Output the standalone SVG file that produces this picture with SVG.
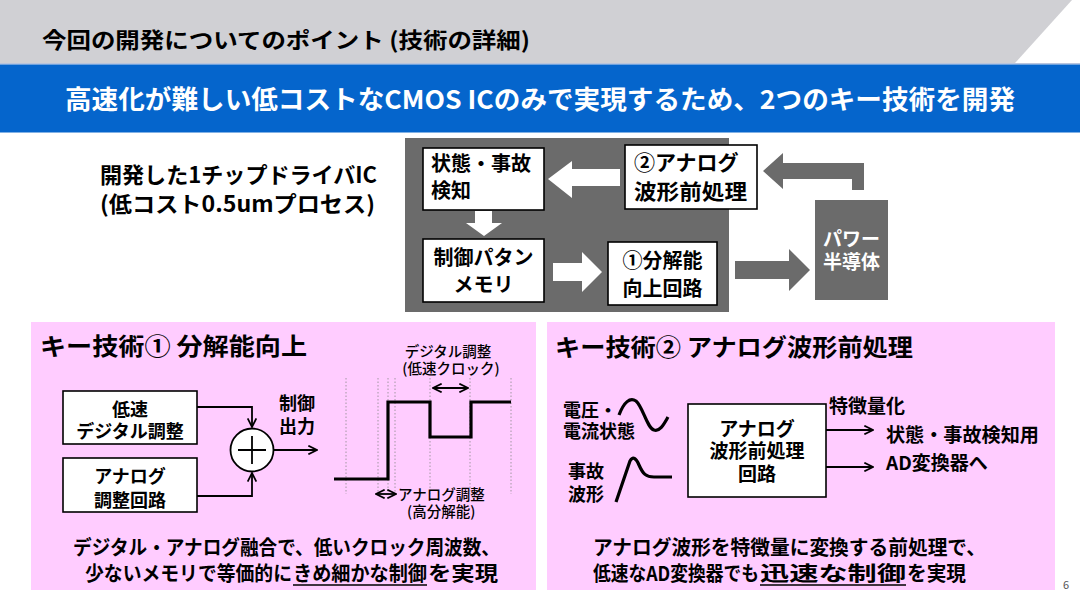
<svg xmlns="http://www.w3.org/2000/svg" width="1080" height="599" viewBox="0 0 1080 599">
<style>
text{font-family:"Noto Sans CJK JP","Noto Sans",sans-serif;font-weight:bold;fill:#000}
.w{fill:#fff}
.box{fill:#fff;stroke:#000;stroke-width:1.6}
.dk{fill:#6b6b6b}
.pink{fill:#ffccff}
.ln{fill:none;stroke:#000;stroke-width:1.8}
.wave{fill:none;stroke:#000;stroke-width:3.2}
.dot{stroke:#8a8a8a;stroke-width:0.8;stroke-dasharray:1.5 2}
.thin{font-weight:500}
.c{text-anchor:middle}
</style>
<defs>
<marker id="ah" viewBox="0 0 10 10" refX="9" refY="5" markerWidth="6" markerHeight="6" orient="auto-start-reverse">
<path d="M1,1 L9,5 L1,9" fill="none" stroke="#000" stroke-width="1.6"/>
</marker>
</defs>
<rect width="1080" height="599" fill="#fff"/>
<g id="header">
<polygon points="0,0 1072,0 1015,63 0,63" fill="#d0d0d4"/>
<rect x="0" y="63" width="1080" height="1.5" fill="#b8c4de"/>
<rect x="0" y="64.5" width="1080" height="68" fill="#0565cc"/>
<text x="42" y="48" font-size="22" textLength="488" lengthAdjust="spacingAndGlyphs">今回の開発についてのポイント (技術の詳細)</text>
<text x="65" y="109" font-size="26" class="w" textLength="950" lengthAdjust="spacingAndGlyphs">高速化が難しい低コストなCMOS ICのみで実現するため、2つのキー技術を開発</text>
</g>
<g id="chip-label">
<text font-size="22"><tspan x="100" y="183" textLength="277" lengthAdjust="spacingAndGlyphs">開発した1チップドライバIC</tspan><tspan x="100" y="212" textLength="275" lengthAdjust="spacingAndGlyphs">(低コスト0.5umプロセス)</tspan></text>
</g>
<g id="chip">
<rect x="405" y="138" width="324" height="174" class="dk"/>
</g>
<g id="connectors">
<path d="M620,169 L572,169 L572,161 L548,179 L572,198 L572,186 L620,186 Z" class="w"/>
<path d="M475,211 L492,211 L492,223 L502,223 L484,236 L466,223 L475,223 Z" class="w"/>
<path d="M553,263 L582,263 L582,252 L602,272 L582,292 L582,281 L553,281 Z" class="w"/>
<path d="M735,261 L789,261 L789,249 L810,270 L789,291 L789,279 L735,279 Z" class="dk"/>
<path d="M864,190 L852,190 L852,179 L783,179 L783,189 L763,171 L783,153 L783,163 L864,163 Z" class="dk"/>
</g>
<g id="node-detect">
<rect x="423" y="148" width="121" height="62" class="box"/>
<text font-size="20"><tspan x="431" y="171">状態・事故</tspan><tspan x="431" y="198">検知</tspan></text>
</g>
<g id="node-memory">
<rect x="423" y="239" width="121" height="63" class="box"/>
<text font-size="20" class="c"><tspan x="483.5" y="265">制御パタン</tspan><tspan x="483.5" y="292">メモリ</tspan></text>
</g>
<g id="node-resolution">
<rect x="608" y="242" width="109" height="63" class="box"/>
<text font-size="20" class="c"><tspan x="662.5" y="268">①分解能</tspan><tspan x="662.5" y="296">向上回路</tspan></text>
</g>
<g id="node-analog">
<rect x="625" y="145" width="132" height="64" class="box"/>
<text font-size="21"><tspan x="634" y="170">②アナログ</tspan><tspan x="634" y="199" textLength="113" lengthAdjust="spacingAndGlyphs">波形前処理</tspan></text>
</g>
<g id="node-power">
<rect x="815" y="200" width="73" height="100" class="dk"/>
<text font-size="19" class="w c"><tspan x="851.5" y="246">パワー</tspan><tspan x="851.5" y="269">半導体</tspan></text>
</g>
<g id="panel1">
<rect x="31" y="322" width="505" height="268" class="pink"/>
<text x="40" y="355" font-size="24" textLength="267" lengthAdjust="spacingAndGlyphs">キー技術① 分解能向上</text>
<g id="node-digital">
<rect x="63" y="391" width="134" height="53" class="box"/>
<text font-size="18" class="c"><tspan x="130" y="416">低速</tspan><tspan x="130" y="438">デジタル調整</tspan></text>
</g>
<g id="node-analogadj">
<rect x="63" y="458" width="134" height="54" class="box"/>
<text font-size="18" class="c"><tspan x="130" y="483">アナログ</tspan><tspan x="130" y="507">調整回路</tspan></text>
</g>
<g id="node-sum">
<circle cx="252" cy="450" r="21.5" fill="#fff" stroke="#000" stroke-width="1.8"/>
<path d="M238,450 H266 M252,436 V464" stroke="#000" stroke-width="1.8"/>
</g>
<g id="p1-connectors">
<path d="M197,407 H252 V427" class="ln" marker-end="url(#ah)"/>
<path d="M197,496 H252 V473" class="ln" marker-end="url(#ah)"/>
<path d="M274,450 H317" class="ln" marker-end="url(#ah)"/>
</g>
<text font-size="18" class="c"><tspan x="297" y="410">制御</tspan><tspan x="297" y="433">出力</tspan></text>
<g id="waveform">
<line x1="346" y1="378" x2="346" y2="494" class="dot"/>
<line x1="378" y1="378" x2="378" y2="494" class="dot"/>
<line x1="388" y1="378" x2="388" y2="494" class="dot"/>
<line x1="395" y1="378" x2="395" y2="494" class="dot"/>
<line x1="430" y1="378" x2="430" y2="494" class="dot"/>
<line x1="470" y1="378" x2="470" y2="494" class="dot"/>
<line x1="511" y1="378" x2="511" y2="494" class="dot"/>
<path d="M334,479 H388 V402 H430 V437 H471 V402 H511" class="wave"/>
<path d="M433,388 H468" class="ln" marker-start="url(#ah)" marker-end="url(#ah)"/>
<path d="M376,494 H396" class="ln" marker-start="url(#ah)" marker-end="url(#ah)"/>
</g>
<text font-size="14.5" class="thin c"><tspan x="448" y="357">デジタル調整</tspan><tspan x="451" y="374">(低速クロック)</tspan></text>
<text font-size="14.5" class="thin"><tspan x="398" y="500">アナログ調整</tspan><tspan x="407" y="517">(高分解能)</tspan></text>
<text font-size="20"><tspan x="73" y="555" textLength="427" lengthAdjust="spacingAndGlyphs">デジタル・アナログ融合で、低いクロック周波数、</tspan><tspan x="85" y="581" textLength="207" lengthAdjust="spacingAndGlyphs">少ないメモリで等価的に</tspan><tspan x="293" y="581" textLength="134" lengthAdjust="spacingAndGlyphs">きめ細かな制御</tspan><tspan x="428" y="581" textLength="70" lengthAdjust="spacingAndGlyphs">を実現</tspan></text>
<line x1="293" y1="585" x2="427" y2="585" stroke="#000" stroke-width="1.3"/>
</g>
<g id="panel2">
<rect x="547" y="322" width="508" height="268" class="pink"/>
<text x="555" y="356" font-size="24" textLength="358" lengthAdjust="spacingAndGlyphs">キー技術② アナログ波形前処理</text>
<text font-size="18"><tspan x="563" y="417">電圧・</tspan><tspan x="563" y="438">電流状態</tspan></text>
<text font-size="18"><tspan x="568" y="478">事故</tspan><tspan x="568" y="501">波形</tspan></text>
<path d="M619,415 C624,402 630,397 636,401 C643,407 647,428 654,430 C660,432 664,424 668,417" class="wave" stroke-width="2.6"/>
<path d="M616,502 L630,461 C633,456 636,458 639,465 C643,474 646,477 654,477 L672,477" class="wave" stroke-width="2.6"/>
<g id="node-preproc">
<rect x="688" y="404" width="138" height="93" class="box"/>
<text font-size="19" class="c"><tspan x="757" y="436">アナログ</tspan><tspan x="757" y="458">波形前処理</tspan><tspan x="757" y="481">回路</tspan></text>
</g>
<g id="p2-connectors">
<path d="M826,430 H873" class="ln" marker-end="url(#ah)"/>
<path d="M826,467 H873" class="ln" marker-end="url(#ah)"/>
</g>
<text x="829" y="413" font-size="19">特徴量化</text>
<text font-size="19"><tspan x="886" y="442" textLength="153" lengthAdjust="spacingAndGlyphs">状態・事故検知用</tspan><tspan x="886" y="470">AD変換器へ</tspan></text>
<text font-size="20"><tspan x="593" y="555" textLength="393" lengthAdjust="spacingAndGlyphs">アナログ波形を特徴量に変換する前処理で、</tspan><tspan x="593" y="581" textLength="166" lengthAdjust="spacingAndGlyphs">低速なAD変換器でも</tspan><tspan x="760" y="581" textLength="146" lengthAdjust="spacingAndGlyphs">迅速な制御</tspan><tspan x="907" y="581" textLength="59" lengthAdjust="spacingAndGlyphs">を実現</tspan></text>
<line x1="760" y1="585" x2="906" y2="585" stroke="#000" stroke-width="1.3"/>
</g>
<text x="1063" y="589" font-size="11" style="fill:#555;font-weight:normal">6</text>
</svg>
